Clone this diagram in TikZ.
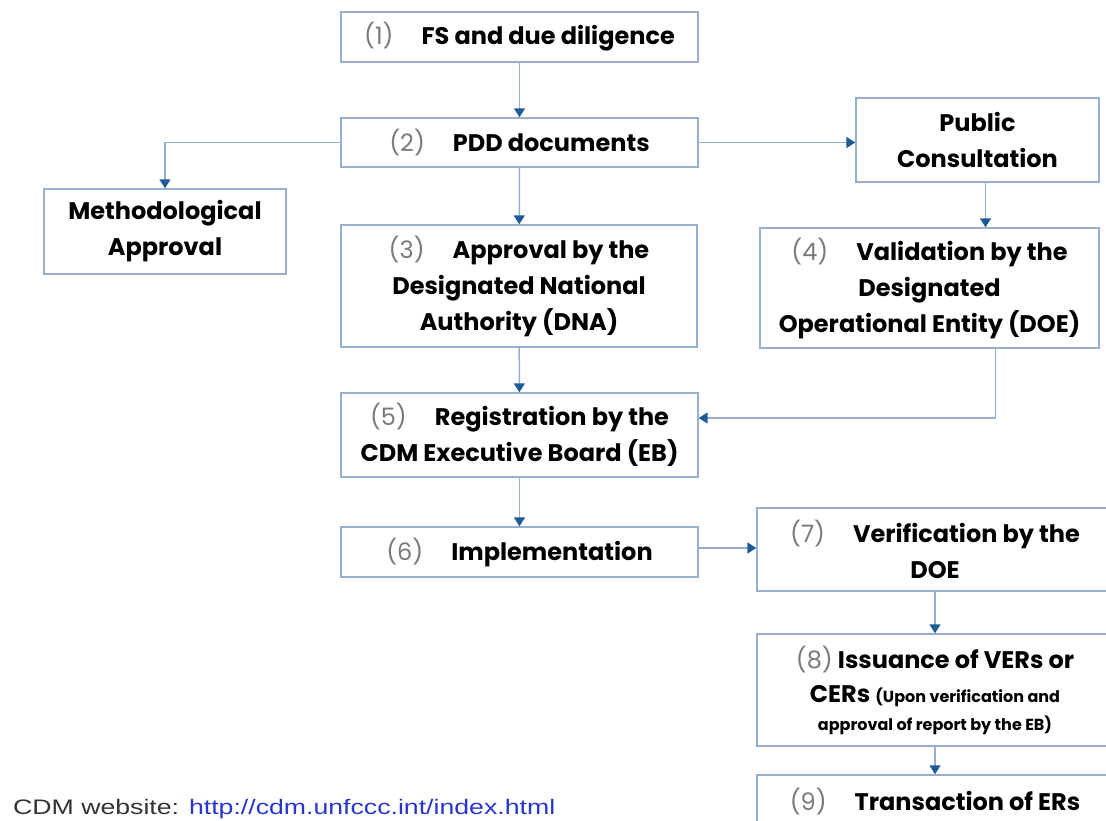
\documentclass[tikz,border=0pt]{standalone}
\usepackage{fontspec}
\setmainfont{Poppins}
\newfontfamily\webfont{Liberation Sans}
\usetikzlibrary{arrows.meta}

\definecolor{boxline}{HTML}{95AFCC}
\definecolor{arrowblue}{HTML}{1F5A96}
\definecolor{numgray}{HTML}{7A7A7A}
\definecolor{linkblue}{HTML}{2A35D0}
\newcommand{\stepnum}[1]{{\mdseries\color{numgray}(#1)}}

\begin{document}
\begin{tikzpicture}[x=1pt, y=-1pt,
    stepbox/.style={draw=boxline, line width=1.4pt, fill=white, inner sep=0pt, align=center,
      font=\fontsize{24}{36}\selectfont\bfseries},
    flow/.style={draw=boxline, line width=1.5pt, -{Triangle[length=9pt,width=11pt,color=arrowblue]}}]
  \useasboundingbox (0,0) rectangle (1106,821);

  \node[stepbox, minimum width=357pt, minimum height=50pt] (fs) at (519.5,37) {\stepnum{1}\hspace{28pt}FS and due diligence};
  \node[stepbox, minimum width=357pt, minimum height=49pt] (pdd) at (519.5,142.5) {\stepnum{2}\hspace{28pt}PDD documents};
  \node[stepbox, minimum width=243pt, minimum height=84pt] (pub) at (977.5,140) {Public\\Consultation};
  \node[stepbox, minimum width=242pt, minimum height=85pt] (meth) at (165,231.5) {Methodological\\Approval};
  \node[stepbox, minimum width=356pt, minimum height=122pt] (dna) at (519,286) {\stepnum{3}\hspace{28pt}Approval by the\\Designated National\\Authority (DNA)};
  \node[stepbox, minimum width=339pt, minimum height=120pt] (doe) at (929.5,288) {\stepnum{4}\hspace{28pt}Validation by the\\Designated\\Operational Entity (DOE)};
  \node[stepbox, minimum width=357pt, minimum height=84pt] (reg) at (519.5,435) {\stepnum{5}\hspace{28pt}Registration by the\\CDM Executive Board (EB)};
  \node[stepbox, minimum width=357pt, minimum height=50pt] (impl) at (519.5,552) {\stepnum{6}\hspace{28pt}Implementation};
  \node[stepbox, minimum width=356pt, minimum height=83pt] (ver) at (935,549.5) {\stepnum{7}\hspace{28pt}Verification by the\\DOE};
  \node[stepbox, minimum width=356pt, minimum height=112pt] (iss) at (935,690) {\stepnum{8} Issuance of VERs or\\[-2pt]CERs {\fontsize{16}{28}\selectfont (Upon verification and}\\[-8pt]{\fontsize{16}{28}\selectfont approval of report by the EB)}};
  \node[stepbox, minimum width=356pt, minimum height=84pt] (tra) at (935,817) {\stepnum{9}\hspace{28pt}Transaction of ERs\\\phantom{X}};

  \draw[flow] (fs) -- (pdd);
  \draw[flow] (pdd.west) -| (meth.north);
  \draw[flow] (pdd.east) -- (pdd.east -| pub.west);
  \draw[flow] (pdd) -- (dna);
  \draw[flow] ([xshift=8pt]pub.south) -- ([xshift=8pt]pub.south |- doe.north);
  \draw[flow] (dna) -- (reg);
  \draw[flow] ([xshift=66pt]doe.south) |- ([yshift=17pt]reg.east);
  \draw[flow] (reg) -- (impl);
  \draw[flow] ([yshift=4pt]impl.east) -- ([yshift=4pt]impl.east -| ver.west);
  \draw[flow] (ver) -- (iss);
  \draw[flow] (iss) -- (tra);

  \node[anchor=base west, inner sep=0pt, font=\webfont\fontsize{21}{24}\selectfont] (web) at (13,814)
    {\scalebox{1.27}[1]{\color{black!80}CDM website: \color{linkblue}http://cdm.unfccc.int/index.html}};
\end{tikzpicture}
\end{document}
